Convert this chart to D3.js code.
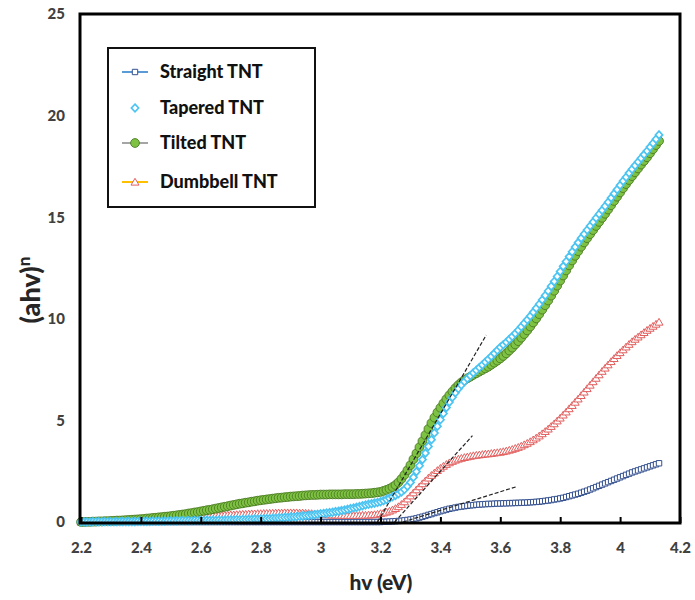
<!DOCTYPE html>
<html>
<head>
<meta charset="utf-8">
<script src="https://cdn.jsdelivr.net/npm/d3@7"></script>
<style>
  html, body { margin: 0; padding: 0; background: #fff; }
  svg { display: block; font-family: Lato, "Open Sans", sans-serif; }
</style>
</head>
<body>
<svg id="chart" width="695" height="600"></svg>
<script>
// Photon energy grid (eV): 2.20 … 4.13 in 0.01 eV steps
const hvStart = 2.20, hvStep = 0.01, hvCount = 194;
const hv = d3.range(hvCount).map(i => +(hvStart + i * hvStep).toFixed(2));

const seriesNames = ["Straight TNT", "Tapered TNT", "Tilted TNT", "Dumbbell TNT"];

// (αhν)^n values per sample, one row per 0.1 eV
const straight = [
  0,0,0,0,0,0,0,0,0,0,
  0,0,0,0,0,0,0,0,0,0,
  0,0,0,0,0,0,0,0,0,0,
  0,0,0,0,0,0,0,0,0,0,
  0,0,0,0,0,0,0,0,0,0,
  0,0,0,0,0,0,0,0,0,0,
  0,0,0,0,0,0,0,0,0,0,
  0,0,0,0,0,0,0,0,0,0,
  0,0,0,0,0,0,0,0,0,0,
  0,0,0,0,0,0,0,0,0,0,
  0.00,0.01,0.01,0.02,0.03,0.04,0.05,0.06,0.08,0.10,
  0.12,0.15,0.18,0.22,0.26,0.30,0.35,0.39,0.44,0.48,
  0.53,0.57,0.61,0.65,0.68,0.71,0.74,0.76,0.78,0.80,
  0.82,0.83,0.85,0.86,0.87,0.88,0.89,0.89,0.90,0.91,
  0.91,0.92,0.92,0.93,0.93,0.94,0.94,0.95,0.95,0.96,
  0.97,0.98,0.99,1.00,1.02,1.04,1.06,1.08,1.11,1.13,
  1.16,1.19,1.23,1.27,1.31,1.35,1.39,1.44,1.49,1.54,
  1.60,1.66,1.72,1.78,1.84,1.90,1.96,2.02,2.08,2.14,
  2.20,2.26,2.32,2.38,2.44,2.49,2.54,2.59,2.64,2.69,
  2.74,2.79,2.84,2.89
];

const tapered = [
  0.00,0.00,0.00,0.00,0.01,0.01,0.01,0.01,0.01,0.01,
  0.01,0.01,0.01,0.02,0.02,0.02,0.02,0.02,0.02,0.03,
  0.03,0.03,0.03,0.03,0.04,0.04,0.04,0.04,0.04,0.05,
  0.05,0.05,0.05,0.06,0.06,0.06,0.06,0.06,0.07,0.07,
  0.07,0.07,0.08,0.08,0.08,0.08,0.09,0.09,0.09,0.10,
  0.10,0.10,0.11,0.11,0.12,0.12,0.13,0.13,0.14,0.14,
  0.15,0.16,0.16,0.17,0.18,0.19,0.20,0.21,0.22,0.23,
  0.24,0.25,0.26,0.28,0.29,0.31,0.32,0.34,0.36,0.38,
  0.40,0.42,0.44,0.46,0.48,0.51,0.53,0.56,0.59,0.62,
  0.66,0.69,0.72,0.76,0.80,0.84,0.87,0.90,0.93,0.96,
  1.00,1.05,1.11,1.17,1.24,1.31,1.39,1.48,1.60,1.76,
  1.95,2.20,2.48,2.77,3.07,3.39,3.72,4.05,4.38,4.71,
  5.03,5.34,5.63,5.90,6.14,6.36,6.56,6.74,6.91,7.06,
  7.20,7.34,7.47,7.60,7.73,7.87,8.01,8.15,8.30,8.45,
  8.60,8.72,8.85,8.99,9.13,9.28,9.44,9.61,9.78,9.95,
  10.13,10.32,10.52,10.72,10.93,11.15,11.37,11.60,11.84,12.08,
  12.33,12.58,12.82,13.06,13.30,13.53,13.75,13.97,14.17,14.37,
  14.57,14.76,14.96,15.15,15.34,15.54,15.74,15.95,16.16,16.36,
  16.57,16.78,16.97,17.17,17.36,17.54,17.72,17.90,18.08,18.26,
  18.45,18.64,18.84,19.05
];

const tilted = [
  0.00,0.00,0.01,0.01,0.02,0.02,0.03,0.03,0.04,0.04,
  0.05,0.06,0.07,0.07,0.08,0.09,0.10,0.11,0.12,0.13,
  0.14,0.15,0.17,0.18,0.20,0.21,0.23,0.24,0.26,0.27,
  0.29,0.31,0.33,0.35,0.37,0.39,0.42,0.44,0.47,0.49,
  0.52,0.55,0.58,0.60,0.63,0.66,0.69,0.72,0.75,0.78,
  0.81,0.84,0.87,0.90,0.92,0.95,0.97,1.00,1.02,1.05,
  1.07,1.09,1.11,1.13,1.15,1.17,1.19,1.20,1.22,1.23,
  1.25,1.26,1.27,1.28,1.30,1.31,1.32,1.33,1.33,1.34,
  1.35,1.35,1.35,1.36,1.36,1.36,1.36,1.36,1.37,1.37,
  1.37,1.37,1.38,1.38,1.39,1.40,1.41,1.42,1.44,1.46,
  1.48,1.53,1.58,1.64,1.72,1.82,1.95,2.12,2.32,2.55,
  2.80,3.09,3.38,3.68,3.98,4.28,4.58,4.87,5.14,5.39,
  5.62,5.84,6.05,6.24,6.42,6.59,6.74,6.87,6.98,7.07,
  7.15,7.24,7.32,7.40,7.48,7.56,7.64,7.74,7.84,7.94,
  8.05,8.17,8.30,8.44,8.58,8.74,8.90,9.07,9.25,9.43,
  9.62,9.82,10.02,10.23,10.45,10.67,10.90,11.14,11.38,11.63,
  11.88,12.13,12.38,12.63,12.87,13.10,13.33,13.55,13.76,13.97,
  14.17,14.37,14.57,14.77,14.97,15.17,15.38,15.59,15.80,16.01,
  16.22,16.43,16.63,16.83,17.02,17.21,17.40,17.59,17.77,17.95,
  18.15,18.35,18.55,18.75
];

const dumbbell = [
  0.00,0.01,0.01,0.02,0.02,0.03,0.03,0.04,0.04,0.05,
  0.05,0.06,0.06,0.07,0.08,0.08,0.09,0.10,0.10,0.11,
  0.12,0.12,0.13,0.14,0.15,0.15,0.16,0.17,0.18,0.19,
  0.19,0.20,0.21,0.22,0.23,0.23,0.24,0.25,0.26,0.27,
  0.27,0.28,0.29,0.30,0.31,0.32,0.32,0.33,0.34,0.35,
  0.36,0.36,0.37,0.38,0.39,0.39,0.40,0.41,0.41,0.42,
  0.42,0.43,0.43,0.44,0.44,0.45,0.45,0.45,0.46,0.46,
  0.46,0.46,0.46,0.45,0.45,0.44,0.43,0.42,0.41,0.40,
  0.39,0.38,0.37,0.36,0.35,0.35,0.34,0.34,0.33,0.33,
  0.33,0.33,0.33,0.33,0.34,0.34,0.35,0.36,0.37,0.39,
  0.42,0.45,0.49,0.54,0.60,0.67,0.76,0.87,1.00,1.14,
  1.29,1.44,1.59,1.74,1.89,2.03,2.17,2.30,2.42,2.54,
  2.65,2.75,2.84,2.92,2.99,3.05,3.10,3.14,3.18,3.21,
  3.24,3.27,3.29,3.31,3.33,3.35,3.36,3.38,3.40,3.42,
  3.44,3.47,3.50,3.54,3.58,3.63,3.68,3.74,3.81,3.88,
  3.96,4.05,4.14,4.24,4.35,4.46,4.58,4.71,4.84,4.98,
  5.12,5.27,5.42,5.58,5.74,5.90,6.06,6.23,6.40,6.57,
  6.74,6.91,7.08,7.25,7.42,7.58,7.74,7.90,8.05,8.20,
  8.34,8.48,8.62,8.75,8.88,9.00,9.11,9.22,9.33,9.44,
  9.54,9.64,9.74,9.84
];

// Linear extrapolations to the energy axis: [hv0, y0, hv1, y1]
const tangents = [
  [3.19, 0, 3.553, 9.2],
  [3.247, 0, 3.507, 4.25],
  [3.275, 0, 3.657, 1.75]
];

const xTicks = [2.2, 2.4, 2.6, 2.8, 3, 3.2, 3.4, 3.6, 3.8, 4, 4.2];
const yTicks = [0, 5, 10, 15, 20, 25];

const svg = d3.select("#chart");
const plot = { left: 80, right: 680, top: 14, bottom: 523 };

const x = d3.scaleLinear().domain([2.2, 4.2]).range([81, 680]);
const y = d3.scaleLinear().domain([0, 25]).range([522, 14]);

// Marker shapes
const shapes = {
  square: "M-2.7,-2.7h5.4v5.4h-5.4Z",
  diamond: "M0,-3.8L3.6,0L0,3.8L-3.6,0Z",
  triangle: "M0,-3.7L4,3.1L-4,3.1Z"
};

const styles = {
  "Straight TNT": { shape: "square", stroke: "#34508f", fill: "#fff", sw: 1, line: "#5b9bd5" },
  "Tapered TNT":  { shape: "diamond", stroke: "#4cc4f2", fill: "#fff", sw: 1.7, line: null },
  "Tilted TNT":   { shape: "circle", stroke: "#4c7a24", fill: "#7dc242", sw: 0.9, line: "#a5a5a5" },
  "Dumbbell TNT": { shape: "triangle", stroke: "#e25f5f", fill: "#fff", sw: 1, line: "#ffc000" }
};

const valuesByName = {
  "Straight TNT": straight,
  "Tapered TNT": tapered,
  "Tilted TNT": tilted,
  "Dumbbell TNT": dumbbell
};

function drawMarker(g, st) {
  if (st.shape === "circle") {
    g.append("circle").attr("r", 4.4)
      .attr("fill", st.fill).attr("stroke", st.stroke).attr("stroke-width", st.sw);
  } else {
    g.append("path").attr("d", shapes[st.shape])
      .attr("fill", st.fill).attr("stroke", st.stroke).attr("stroke-width", st.sw);
  }
}

// Series markers (later series on top)
const drawOrder = ["Straight TNT", "Dumbbell TNT", "Tilted TNT", "Tapered TNT"];
drawOrder.forEach(name => {
  const st = styles[name];
  const vals = valuesByName[name];
  const g = svg.append("g").attr("class", "series");
  const pts = g.selectAll("g.pt").data(hv.map((h, i) => [h, vals[i]]))
    .join("g").attr("class", "pt")
    .attr("transform", d => `translate(${x(d[0])},${y(d[1])})`);
  pts.each(function () { drawMarker(d3.select(this), st); });
});

// Dashed extrapolation lines
svg.append("g").selectAll("line").data(tangents).join("line")
  .attr("x1", d => x(d[0])).attr("y1", d => y(d[1]))
  .attr("x2", d => x(d[2])).attr("y2", d => y(d[3]))
  .attr("stroke", "#222").attr("stroke-width", 1.2)
  .attr("stroke-dasharray", "4,2");

// X axis: inward ticks, labels below
const xAxis = d3.axisBottom(x).tickValues(xTicks).tickSizeInner(-6).tickSizeOuter(0)
  .tickFormat(d3.format("~g"));
const gx = svg.append("g").attr("transform", `translate(0,${plot.bottom})`).call(xAxis);
gx.select(".domain").remove();
gx.selectAll(".tick line").attr("stroke", "#000").attr("stroke-width", 2);
gx.selectAll(".tick text").attr("y", 30).attr("dy", 0)
  .attr("font-family", "Lato, sans-serif").attr("font-weight", 900)
  .attr("font-size", 15).attr("fill", "#404040");

// Y axis: labels only
const yAxis = d3.axisLeft(y).tickValues(yTicks).tickSize(0).tickPadding(15);
const gy = svg.append("g").attr("transform", `translate(${plot.left},0)`).call(yAxis);
gy.select(".domain").remove();
gy.selectAll(".tick text")
  .attr("font-family", "Lato, sans-serif").attr("font-weight", 900)
  .attr("font-size", 15).attr("fill", "#404040");

// Plot frame
svg.append("rect")
  .attr("x", plot.left).attr("y", plot.top)
  .attr("width", plot.right - plot.left).attr("height", plot.bottom - plot.top)
  .attr("fill", "none").attr("stroke", "#000").attr("stroke-width", 3);

// Axis titles
svg.append("text").attr("x", 381).attr("y", 590).attr("text-anchor", "middle")
  .attr("font-weight", 900).attr("font-size", 21).attr("fill", "#262626")
  .text("hv (eV)");

const yt = svg.append("text").attr("transform", "translate(40,290) rotate(-90)")
  .attr("text-anchor", "middle").attr("font-weight", 900).attr("font-size", 27)
  .attr("fill", "#262626");
yt.append("tspan").text("(ahv)");
yt.append("tspan").attr("dy", -10).attr("font-size", 17).text("n");

// Legend
const legend = svg.append("g");
legend.append("rect").attr("x", 108).attr("y", 48).attr("width", 207).attr("height", 159)
  .attr("fill", "#fff").attr("stroke", "#111").attr("stroke-width", 2);
const rowsY = [72, 108, 143, 182];
seriesNames.forEach((name, i) => {
  const st = styles[name];
  const row = legend.append("g").attr("transform", `translate(0,${rowsY[i]})`);
  if (st.line) {
    row.append("line").attr("x1", 122).attr("x2", 148).attr("y1", 0).attr("y2", 0)
      .attr("stroke", st.line).attr("stroke-width", 2);
  }
  drawMarker(row.append("g").attr("transform", "translate(135,0)"), st);
  row.append("text").attr("x", 160).attr("y", 6)
    .attr("font-weight", 900).attr("font-size", 18).attr("fill", "#111")
    .text(name);
});
</script>
</body>
</html>
